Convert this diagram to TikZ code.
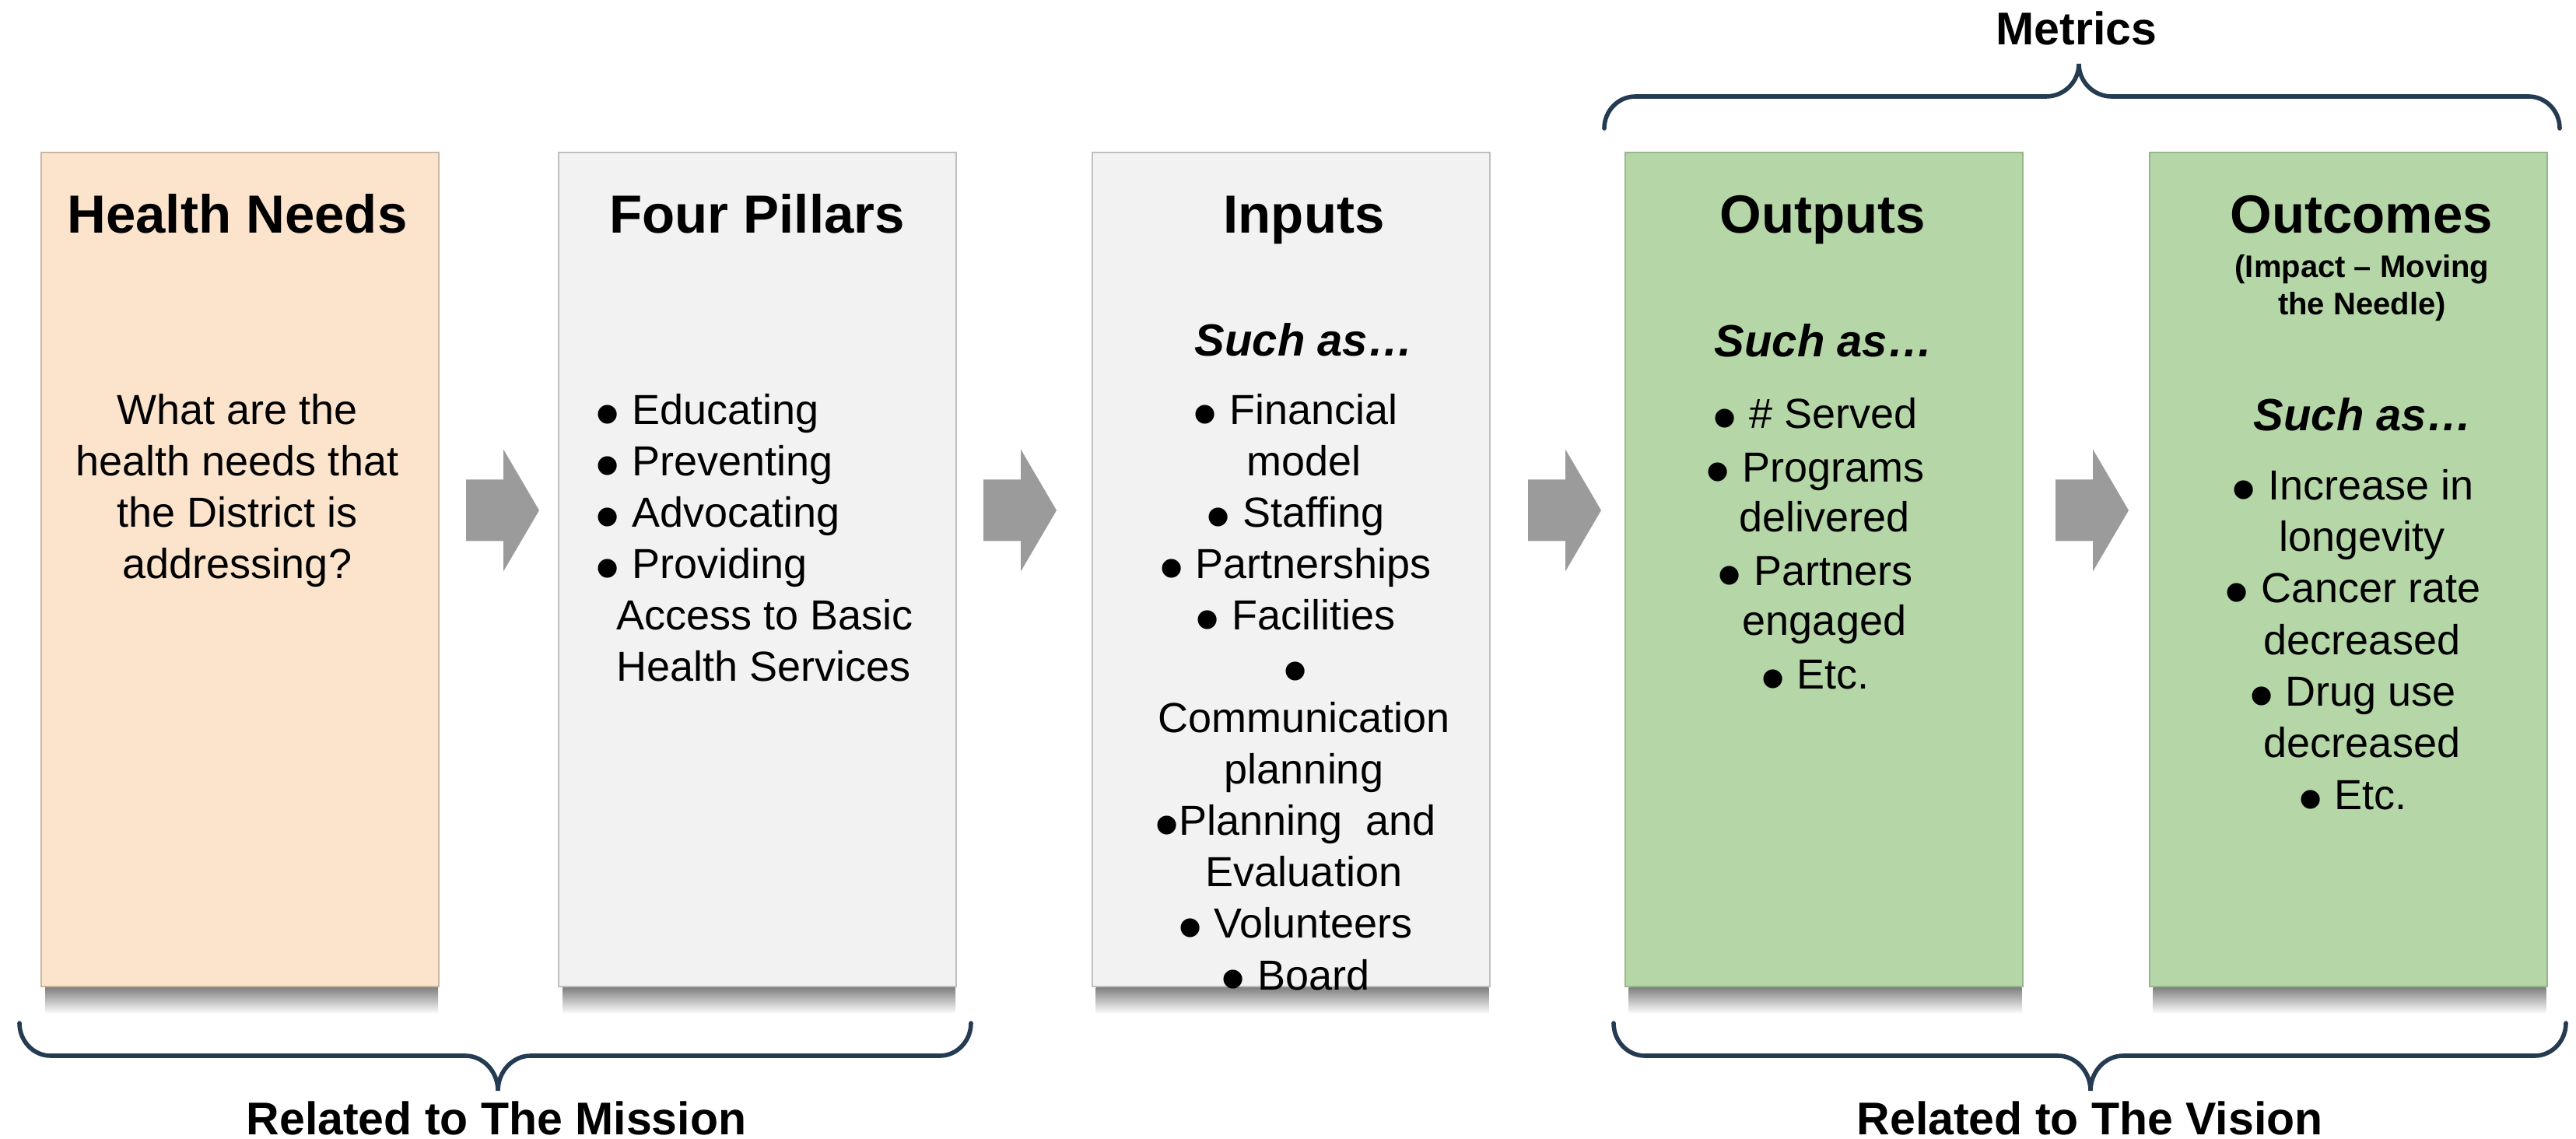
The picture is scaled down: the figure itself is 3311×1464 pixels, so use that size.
\documentclass[tikz,border=0pt]{standalone}
\usepackage{fontspec}
\setmainfont{Liberation Sans}
\usepackage{graphicx}

\definecolor{peach}{HTML}{FCE4CC}
\definecolor{peachline}{HTML}{C9B6A2}
\definecolor{paper}{HTML}{F2F2F2}
\definecolor{paperline}{HTML}{BFBFBF}
\definecolor{sage}{HTML}{B5D6A7}
\definecolor{sageline}{HTML}{98B68C}
\definecolor{arrowgray}{HTML}{9B9B9B}
\definecolor{bracecol}{HTML}{243B52}

% large round bullet
\newcommand\bul{\smash{\raisebox{-0.3em}{\scalebox{1.65}{•}}}}

% block arrow pointing right; #1,#2 = left end of the shaft (centre line)
\newcommand\blockarrow[2]{%
  \fill[arrowgray] (#1,#2) ++(0,-39.5) -- ++(48,0) -- ++(0,-39) -- ++(46,78.5)
    -- ++(-46,78.5) -- ++(0,-39) -- ++(-48,0) -- cycle;}

% curly brace: x1, x2, tip x, end y, middle y, tip y
\newcommand\curlybr[6]{%
  \draw[bracestyle] (#1,#4) .. controls (#1,{#4+0.55*(#5-#4)}) and ({#1+18},#5) .. ({#1+40},#5)
    -- ({#3-42},#5) .. controls ({#3-19},#5) and (#3,{#6-0.55*(#6-#5)}) .. (#3,#6)
    .. controls (#3,{#6-0.55*(#6-#5)}) and ({#3+19},#5) .. ({#3+42},#5)
    -- ({#2-40},#5) .. controls ({#2-18},#5) and (#2,{#4+0.55*(#5-#4)}) .. (#2,#4);}

\begin{document}
\begin{tikzpicture}[x=0.25pt,y=-0.25pt,
  box/.style={rectangle, inner sep=0pt, minimum width=127.75pt, minimum height=268pt,
    line width=0.5pt},
  boxshadow/.style={top color=black!50, bottom color=white, draw=none},
  title/.style={font=\fontsize{17.25pt}{20pt}\selectfont\bfseries, inner sep=0pt, anchor=base},
  body/.style={font=\fontsize{13.5pt}{16.5pt}\selectfont, inner sep=0pt, anchor=base},
  bodyl/.style={body, anchor=base west},
  such/.style={font=\fontsize{14.5pt}{17pt}\selectfont\bfseries\itshape, inner sep=0pt, anchor=base},
  small/.style={font=\fontsize{10pt}{12pt}\selectfont\bfseries, inner sep=0pt, anchor=base},
  label/.style={font=\fontsize{14.75pt}{17pt}\selectfont\bfseries, inner sep=0pt, anchor=base},
  bracestyle/.style={draw=bracecol, line width=1.4pt, line cap=round}
]
\fill[white] (0,0) rectangle (3311,1464);
\useasboundingbox (0,0) rectangle (3311,1464);

% the five stages
\node[box, fill=peach, draw=peachline] (hn) at (308.5,732) {};
\node[box, fill=paper, draw=paperline] (fp) at (973.5,732) {};
\node[box, fill=paper, draw=paperline] (in) at (1659,732) {};
\node[box, fill=sage, draw=sageline] (out) at (2344,732) {};
\node[box, fill=sage, draw=sageline] (oc) at (3018,732) {};

% soft shadows under the stages
\foreach \b in {hn,fp,in,out,oc}
  \shade[boxshadow] ([xshift=1.5pt]\b.south west) rectangle ([xshift=-0.5pt,yshift=-8.5pt]\b.south east);

% block arrows between the stages
\blockarrow{599}{656}
\blockarrow{1264}{656}
\blockarrow{1964}{656}
\blockarrow{2642}{656}

% braces
\curlybr{2062}{3290}{2672}{165}{124}{82}
\curlybr{25}{1248}{640}{1315}{1357}{1402}
\curlybr{2074}{3298}{2687}{1315}{1357}{1402}

\node[label] (metrics) at (2669,58) {Metrics};
\node[label] (mission) at (638,1458) {Related to The Mission};
\node[label] (vision) at (2686,1458) {Related to The Vision};

% Health Needs
\node[title] (hn-t) at (305,300) {Health Needs};
\node[body] (hn-1) at (305,546) {What are the};
\node[body] (hn-2) at (305,612) {health needs that};
\node[body] (hn-3) at (305,678) {the District is};
\node[body] (hn-4) at (305,744) {addressing?};

% Four Pillars
\node[title] (fp-t) at (973,300) {Four Pillars};
\node[bodyl] (fp-1) at (765,546) {\bul\ Educating};
\node[bodyl] (fp-2) at (765,612) {\bul\ Preventing};
\node[bodyl] (fp-3) at (765,678) {\bul\ Advocating};
\node[bodyl] (fp-4) at (765,744) {\bul\ Providing};
\node[bodyl] (fp-5) at (792,810) {Access to Basic};
\node[bodyl] (fp-6) at (792,876) {Health Services};

% Inputs
\node[title] (in-t) at (1676,300) {Inputs};
\node[such] (in-s) at (1676,458) {Such as…};
\node[body] (in-1) at (1665,546) {\bul\ Financial};
\node[body] (in-2) at (1676,612) {model};
\node[body] (in-3) at (1665,678) {\bul\ Staffing};
\node[body] (in-4) at (1665,744) {\bul\ Partnerships};
\node[body] (in-5) at (1665,810) {\bul\ Facilities};
\node[body] (in-6) at (1665,876) {\bul};
\node[body] (in-7) at (1676,942) {Communication};
\node[body] (in-8) at (1676,1008) {planning};
\node[body] (in-9) at (1665,1074) {\bul Planning\ \ and};
\node[body] (in-10) at (1676,1140) {Evaluation};
\node[body] (in-11) at (1665,1206) {\bul\ Volunteers};
\node[body] (in-12) at (1665,1272) {\bul\ Board};

% Outputs
\node[title] (out-t) at (2343,300) {Outputs};
\node[such] (out-s) at (2344,459) {Such as…};
\node[body] (out-1) at (2333,551) {\bul\ \# Served};
\node[body] (out-2) at (2333,620) {\bul\ Programs};
\node[body] (out-3) at (2345,684) {delivered};
\node[body] (out-4) at (2333,753) {\bul\ Partners};
\node[body] (out-5) at (2345,817) {engaged};
\node[body] (out-6) at (2333,886) {\bul\ Etc.};

% Outcomes
\node[title] (oc-t) at (3035,300) {Outcomes};
\node[small] (oc-i1) at (3036,357) {(Impact – Moving};
\node[small] (oc-i2) at (3036,405) {the Needle)};
\node[such] (oc-s) at (3037,554) {Such as…};
\node[body] (oc-1) at (3024,643) {\bul\ Increase in};
\node[body] (oc-2) at (3036,709) {longevity};
\node[body] (oc-3) at (3024,775) {\bul\ Cancer rate};
\node[body] (oc-4) at (3036,842) {decreased};
\node[body] (oc-5) at (3024,908) {\bul\ Drug use};
\node[body] (oc-6) at (3036,974) {decreased};
\node[body] (oc-7) at (3024,1041) {\bul\ Etc.};
\end{tikzpicture}
\end{document}
